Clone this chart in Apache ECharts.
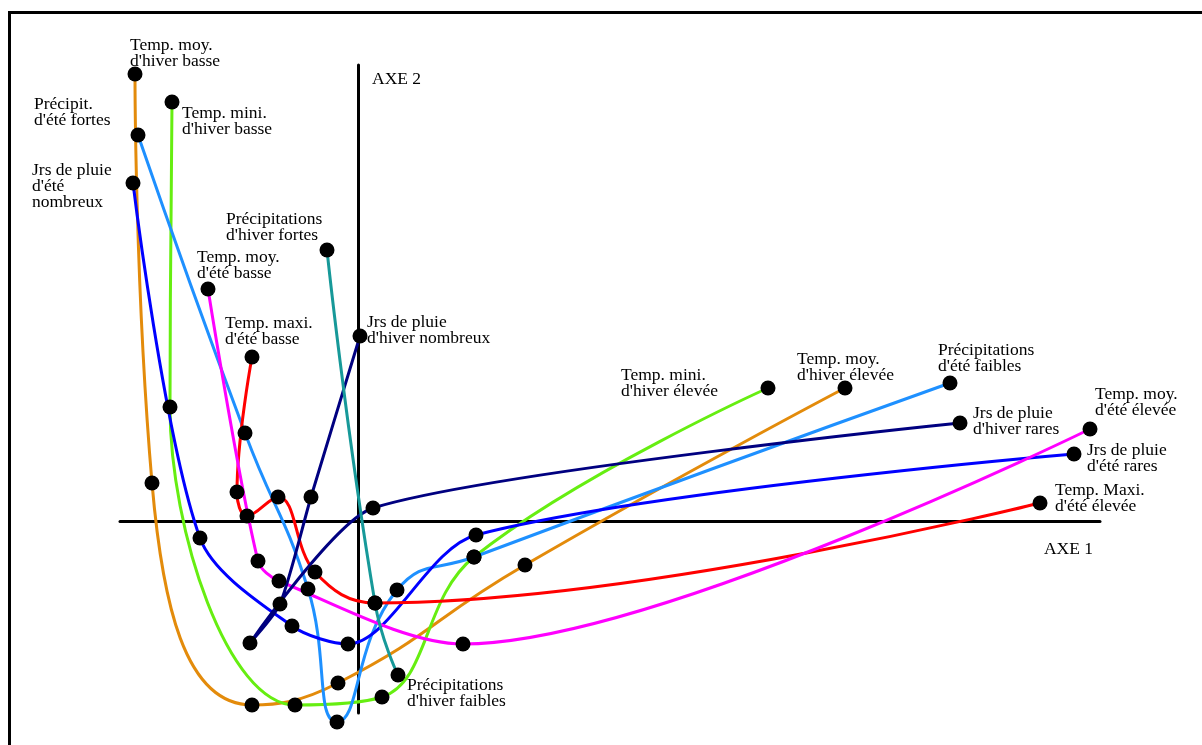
<!DOCTYPE html>
<html><head><meta charset="utf-8">
<script src="https://cdn.jsdelivr.net/npm/echarts@6/dist/echarts.min.js"></script>
<style>html,body{margin:0;padding:0;background:#fff}#c{width:1202px;height:745px}</style>
</head><body><div id="c"></div>
<script>
// Factor scores [axe 1, axe 2] of each modality, from "basse/fortes/nombreux" to "élevée/faibles/rares"
const tempMoyHiver   = [[-2.23,4.47],[-2.06,0.38],[-1.06,-1.84],[-0.20,-1.62],[1.67,-0.44],[4.87,1.33]];
const tempMiniHiver  = [[-1.86,4.19],[-1.88,1.14],[-0.63,-1.84],[0.24,-1.76],[1.16,-0.36],[4.10,1.33]];
const precipEte      = [[-2.20,3.86],[-1.13,0.88],[-0.50,-0.68],[-0.21,-2.01],[0.39,-0.69],[1.16,-0.36],[5.92,1.38]];
const pluieEte       = [[-2.25,3.38],[-1.58,-0.17],[-0.66,-1.05],[-0.10,-1.23],[1.18,-0.14],[7.16,0.67]];
const tempMaxiEte    = [[-1.06,1.64],[-1.21,0.29],[-1.11,0.05],[-0.80,0.24],[-0.43,-0.51],[0.17,-0.82],[6.82,0.18]];
const tempMoyEte     = [[-1.50,2.32],[-1.00,-0.40],[-0.79,-0.60],[1.05,-1.23],[7.32,0.92]];
const pluieHiver     = [[0.02,1.85],[-0.47,0.24],[-0.78,-0.83],[-1.08,-1.22],[0.15,0.13],[6.02,0.98]];
const precipHiver    = [[-0.31,2.71],[0.17,-0.82],[0.40,-1.54]];

// Labels of the two extreme modalities
const lowLabels  = ["Temp. moy.\nd'hiver basse","Temp. mini.\nd'hiver basse","Précipit.\nd'été fortes","Jrs de pluie\nd'été\nnombreux",
                    "Temp. maxi.\nd'été basse","Temp. moy.\nd'été basse","Jrs de pluie\nd'hiver nombreux","Précipitations\nd'hiver fortes"];
const highLabels = ["Temp. moy.\nd'hiver élevée","Temp. mini.\nd'hiver élevée","Précipitations\nd'été faibles","Jrs de pluie\nd'été rares",
                    "Temp. Maxi.\nd'été élevée","Temp. moy.\nd'été élevée","Jrs de pluie\nd'hiver rares","Précipitations\nd'hiver faibles"];
const axisNames = ['AXE 1','AXE 2'];

// styling
const curveData = [tempMoyHiver,tempMiniHiver,precipEte,pluieEte,tempMaxiEte,tempMoyEte,pluieHiver,precipHiver];
const colors = ['#E38B0B','#66EE11','#1E90FF','#0000FF','#FF0000','#FF00FF','#000080','#179999'];
const smoothing = [0.5,0.4,0.5,0.3,0.4,0.3,0.22,0.5];
const lowOffsets  = [[2.5,-29.5],[17.5,10.5],[-96.5,-31.5],[-93.5,-13.5],[-19.5,-34.5],[-3.5,-32.5],[14.5,-14.5],[-93.5,-31.5]];
const highOffsets = [[-40.5,-29.5],[-139.5,-13.5],[-4.5,-33.5],[20.5,-4.5],[22.5,-13.5],[12.5,-35.5],[20.5,-10.5],[16.5,9.5]];

const font = {fontFamily:'Liberation Serif', fontSize:17.5, lineHeight:16, color:'#000'};

const series = [];
curveData.forEach((pts,i)=>{
  series.push({type:'line', data:pts, smooth:smoothing[i], symbol:'none', clip:false, z:2,
    lineStyle:{color:colors[i], width:3}, animation:false, silent:true});
});
const dots = [];
curveData.forEach((pts,i)=>{
  pts.forEach((p,j)=>{
    const item = {value:p};
    if (j===0) item.label = Object.assign({show:true, formatter:lowLabels[i], position:lowOffsets[i], align:'left', verticalAlign:'top'}, font);
    if (j===pts.length-1) item.label = Object.assign({show:true, formatter:highLabels[i], position:highOffsets[i], align:'left', verticalAlign:'top'}, font);
    dots.push(item);
  });
});
series.push({type:'scatter', data:dots, symbol:'circle', symbolSize:15, clip:false, z:5,
  itemStyle:{color:'#000', opacity:1}, animation:false, silent:true});

const chart = echarts.init(document.getElementById('c'), null, {renderer:'canvas'});
chart.setOption({
  backgroundColor:'#fff',
  animation:false,
  graphic:[{type:'rect', shape:{x:9.5,y:12.5,width:1300,height:800}, style:{fill:null, stroke:'#000', lineWidth:3}, z:100}],
  grid:{left:120, right:102, top:65, bottom:32},
  xAxis:{type:'value', min:-2.38, max:7.42, axisLine:{onZero:true, lineStyle:{color:'#000', width:3}},
    axisTick:{show:false}, axisLabel:{show:false}, splitLine:{show:false},
    name:axisNames[0], nameLocation:'end', nameGap:-7,
    nameTextStyle:Object.assign({}, font, {align:'right', verticalAlign:'top', padding:[20,0,0,0]})},
  yAxis:{type:'value', min:-1.92, max:4.56, axisLine:{onZero:true, lineStyle:{color:'#000', width:3}},
    axisTick:{show:false}, axisLabel:{show:false}, splitLine:{show:false},
    name:axisNames[1], nameLocation:'end', nameGap:-6,
    nameTextStyle:Object.assign({}, font, {align:'left', verticalAlign:'top', padding:[0,0,0,14]})},
  series:series
});
</script></body></html>
